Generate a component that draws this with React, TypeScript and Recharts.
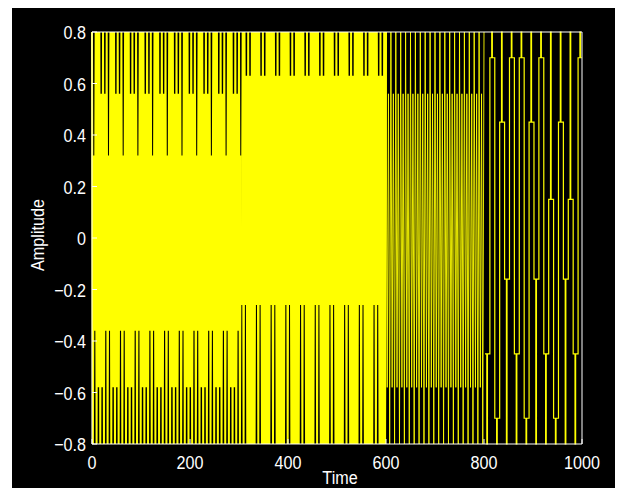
import React from "react";
import { LineChart, Line, XAxis, YAxis } from "recharts";

const timeTicks = [0, 200, 400, 600, 800, 1000];
const ampTicks = [-0.8, -0.6, -0.4, -0.2, 0, 0.2, 0.4, 0.6, 0.8];

// part 1: t = 0 .. 303.75, one sample every 1.875
const startA = 0;
const stepA = 1.875;
const ampA = [
  0.8, -0.8,
  0.32, -0.36, 0.8, -0.8, 0.8, -0.58, 0.8, -0.8, 0.56, -0.58, 0.8, -0.8, 0.56, -0.36, 0.8, -0.8,
  0.32, -0.36, 0.8, -0.8, 0.8, -0.58, 0.8, -0.8, 0.56, -0.58, 0.8, -0.8, 0.56, -0.36, 0.8, -0.8,
  0.32, -0.36, 0.8, -0.8, 0.8, -0.58, 0.8, -0.8, 0.56, -0.58, 0.8, -0.8, 0.56, -0.36, 0.8, -0.8,
  0.32, -0.36, 0.8, -0.8, 0.8, -0.58, 0.8, -0.8, 0.56, -0.58, 0.8, -0.8, 0.56, -0.36, 0.8, -0.8,
  0.32, -0.36, 0.8, -0.8, 0.8, -0.58, 0.8, -0.8, 0.56, -0.58, 0.8, -0.8, 0.56, -0.36, 0.8, -0.8,
  0.32, -0.36, 0.8, -0.8, 0.8, -0.58, 0.8, -0.8, 0.56, -0.58, 0.8, -0.8, 0.56, -0.36, 0.8, -0.8,
  0.32, -0.36, 0.8, -0.8, 0.8, -0.58, 0.8, -0.8, 0.56, -0.58, 0.8, -0.8, 0.56, -0.36, 0.8, -0.8,
  0.32, -0.36, 0.8, -0.8, 0.8, -0.58, 0.8, -0.8, 0.56, -0.58, 0.8, -0.8, 0.56, -0.36, 0.8, -0.8,
  0.32, -0.36, 0.8, -0.8, 0.8, -0.58, 0.8, -0.8, 0.56, -0.58, 0.8, -0.8, 0.56, -0.36, 0.8, -0.8,
  0.32, -0.36, 0.8, -0.8, 0.8, -0.58, 0.8, -0.8, 0.56, -0.58, 0.8, -0.8, 0.56, -0.36, 0.8, -0.8,
  0.32,
];

// part 2: t = 305.625 .. 600, one sample every 1.875
const startB = 305.625;
const stepB = 1.875;
const ampB = [
  -0.26, 0.8, -0.8,
  0.8, -0.26, 0.63, -0.8, 0.8, -0.8, 0.63, -0.8, 0.8, -0.8, 0.8, -0.8, 0.8, -0.26, 0.8, -0.8,
  0.8, -0.26, 0.63, -0.8, 0.8, -0.8, 0.63, -0.8, 0.8, -0.8, 0.8, -0.8, 0.8, -0.26, 0.8, -0.8,
  0.8, -0.26, 0.63, -0.8, 0.8, -0.8, 0.63, -0.8, 0.8, -0.8, 0.8, -0.8, 0.8, -0.26, 0.8, -0.8,
  0.8, -0.26, 0.63, -0.8, 0.8, -0.8, 0.63, -0.8, 0.8, -0.8, 0.8, -0.8, 0.8, -0.26, 0.8, -0.8,
  0.8, -0.26, 0.63, -0.8, 0.8, -0.8, 0.63, -0.8, 0.8, -0.8, 0.8, -0.8, 0.8, -0.26, 0.8, -0.8,
  0.8, -0.26, 0.63, -0.8, 0.8, -0.8, 0.63, -0.8, 0.8, -0.8, 0.8, -0.8, 0.8, -0.26, 0.8, -0.8,
  0.8, -0.26, 0.63, -0.8, 0.8, -0.8, 0.63, -0.8, 0.8, -0.8, 0.8, -0.8, 0.8, -0.26, 0.8, -0.8,
  0.8, -0.26, 0.63, -0.8, 0.8, -0.8, 0.63, -0.8, 0.8, -0.8, 0.8, -0.8, 0.8, -0.26, 0.8, -0.8,
  0.8, -0.26, 0.63, -0.8, 0.8, -0.8, 0.63, -0.8, 0.8, -0.8, 0.8, -0.8, 0.8, -0.26, 0.8, -0.8,
  0.8, -0.26, 0.63, -0.8, 0.8, -0.8, 0.63, -0.8, 0.8, -0.8, 0.8,
];

// part 3: t = 600 .. 800, one sample every 2.5
const startC = 600;
const stepC = 2.5;
const ampC = [
  0.8, -0.58, 0.56, -0.8, 0.8, -0.58, 0.56, -0.8, 0.8, -0.58, 0.56, -0.8, 0.8, -0.58, 0.56, -0.8,
  0.8, -0.58, 0.56, -0.8, 0.8, -0.58, 0.56, -0.8, 0.8, -0.58, 0.56, -0.8, 0.8, -0.58, 0.56, -0.8,
  0.8, -0.58, 0.56, -0.8, 0.8, -0.58, 0.56, -0.8, 0.8, -0.58, 0.56, -0.8, 0.8, -0.58, 0.56, -0.8,
  0.8, -0.58, 0.56, -0.8, 0.8, -0.58, 0.56, -0.8, 0.8, -0.58, 0.56, -0.8, 0.8, -0.58, 0.56, -0.8,
  0.8, -0.58, 0.56, -0.8, 0.8, -0.58, 0.56, -0.8, 0.8, -0.58, 0.56, -0.8, 0.8, -0.58, 0.56, -0.8,
  0.8,
];

// part 4: t = 802 .. 999.5, one sample every 1.25 (held)
const startD = 802;
const stepD = 1.25;
const ampD = [
  -0.45, -0.45, -0.45, -0.8, -0.45, -0.45, -0.45, -0.45,
  0.7, 0.7, 0.7, 0.8, 0.7, 0.7, 0.7, 0.7,
  -0.7, -0.7, -0.7, -0.8, -0.7, -0.7, -0.7, -0.7,
  0.45, 0.45, 0.45, 0.8, 0.45, 0.45, 0.45, 0.45,
  -0.16, -0.16, -0.16, -0.8, -0.16, -0.16, -0.16, -0.16,
  0.7, 0.7, 0.7, 0.8, 0.7, 0.7, 0.7, 0.7,
  -0.45, -0.45, -0.45, -0.8, -0.45, -0.45, -0.45, -0.45,
  0.7, 0.7, 0.7, 0.8, 0.7, 0.7, 0.7, 0.7,
  -0.7, -0.7, -0.7, -0.8, -0.7, -0.7, -0.7, -0.7,
  0.45, 0.45, 0.45, 0.8, 0.45, 0.45, 0.45, 0.45,
  -0.16, -0.16, -0.16, -0.8, -0.16, -0.16, -0.16, -0.16,
  0.7, 0.7, 0.7, 0.8, 0.7, 0.7, 0.7, 0.7,
  -0.45, -0.45, -0.45, -0.8, -0.45, -0.45, -0.45, -0.45,
  0.15, 0.15, 0.15, 0.8, 0.15, 0.15, 0.15, 0.15,
  -0.7, -0.7, -0.7, -0.8, -0.7, -0.7, -0.7, -0.7,
  0.45, 0.45, 0.45, 0.8, 0.45, 0.45, 0.45, 0.45,
  -0.16, -0.16, -0.16, -0.8, -0.16, -0.16, -0.16, -0.16,
  0.15, 0.15, 0.15, 0.8, 0.15, 0.15, 0.15, 0.15,
  -0.45, -0.45, -0.45, -0.8, -0.45, -0.45, -0.45, -0.45,
  0.7, 0.7, 0.7, 0.8, 0.7, 0.7, 0.7,
];

const toRows = (start: number, step: number, vals: number[]) =>
  vals.map((v, i) => ({ t: start + i * step, v }));

const rowsA = toRows(startA, stepA, ampA);
const rowsB = toRows(startB, stepB, ampB);
const rowsC = toRows(startC, stepC, ampC);
const rowsD = toRows(startD, stepD, ampD);

const YELLOW = "#ffff00";
const FONT = "'Liberation Sans', Arial, Helvetica, sans-serif";

const Narrow = ({ x, y, anchor, rotate, children }: any) => (
  <text
    transform={`translate(${x},${y})${rotate ? " rotate(-90)" : ""} scale(0.85,1)`}
    textAnchor={anchor}
    fill="#fff"
    fontSize={19}
    fontFamily={FONT}
  >
    {children}
  </text>
);

const ampLabel = (v: number) =>
  v === 0 ? "0" : v < 0 ? `\u2212${(-v).toFixed(1)}` : v.toFixed(1);

const LeftTick = ({ x, y, payload }: any) => (
  <g>
    <line x1={x} x2={x + 5} y1={y} y2={y} stroke="#fff" />
    <Narrow x={x - 6} y={y + 7} anchor="end">
      {ampLabel(payload.value)}
    </Narrow>
  </g>
);

const RightTick = ({ x, y }: any) => (
  <line x1={x} x2={x - 5} y1={y} y2={y} stroke="#fff" />
);

const BottomTick = ({ x, y, payload }: any) => (
  <g>
    <line x1={x} x2={x} y1={y} y2={y - 5} stroke="#fff" />
    <Narrow x={x} y={y + 25} anchor="middle">
      {payload.value}
    </Narrow>
  </g>
);

const TopTick = ({ x, y }: any) => (
  <line x1={x} x2={x} y1={y} y2={y + 5} stroke="#fff" />
);

export default function App() {
  return (
    <div
      style={{
        position: "relative",
        marginLeft: 4,
        marginTop: -3,
        width: 611,
        height: 483,
        background: "#000",
      }}
    >
      <LineChart
        width={611}
        height={483}
        margin={{ top: 26, right: 40, bottom: 43, left: 79 }}
      >
        <XAxis
          dataKey="t"
          type="number"
          domain={[0, 1000]}
          ticks={timeTicks}
          height={1}
          tickSize={0}
          tickMargin={0}
          tickLine={false}
          axisLine={{ stroke: "#fff" }}
          tick={BottomTick}
        />
        <XAxis
          xAxisId="top"
          orientation="top"
          dataKey="t"
          type="number"
          domain={[0, 1000]}
          ticks={timeTicks}
          height={1}
          tickSize={0}
          tickMargin={0}
          tickLine={false}
          axisLine={{ stroke: "#fff" }}
          tick={TopTick}
        />
        <YAxis
          type="number"
          domain={[-0.8, 0.8]}
          ticks={ampTicks}
          width={1}
          tickSize={0}
          tickMargin={0}
          tickLine={false}
          axisLine={{ stroke: "#fff" }}
          tick={LeftTick}
        />
        <YAxis
          yAxisId="right"
          orientation="right"
          type="number"
          domain={[-0.8, 0.8]}
          ticks={ampTicks}
          width={1}
          tickSize={0}
          tickMargin={0}
          tickLine={false}
          axisLine={{ stroke: "#fff" }}
          tick={RightTick}
        />
        <Line data={rowsA} dataKey="v" type="linear" stroke={YELLOW} strokeWidth={2} dot={false} isAnimationActive={false} />
        <Line data={rowsB} dataKey="v" type="linear" stroke={YELLOW} strokeWidth={2} dot={false} isAnimationActive={false} />
        <Line data={rowsC} dataKey="v" type="linear" stroke={YELLOW} strokeWidth={0.9} dot={false} isAnimationActive={false} />
        <Line data={rowsD} dataKey="v" type="stepAfter" stroke={YELLOW} strokeWidth={1.2} dot={false} isAnimationActive={false} />
      </LineChart>
      <svg
        width={611}
        height={483}
        style={{ position: "absolute", left: 0, top: 0, pointerEvents: "none" }}
      >
        <Narrow x={32} y={230} anchor="middle" rotate>
          Amplitude
        </Narrow>
        <Narrow x={328} y={479} anchor="middle">
          Time
        </Narrow>
      </svg>
    </div>
  );
}
